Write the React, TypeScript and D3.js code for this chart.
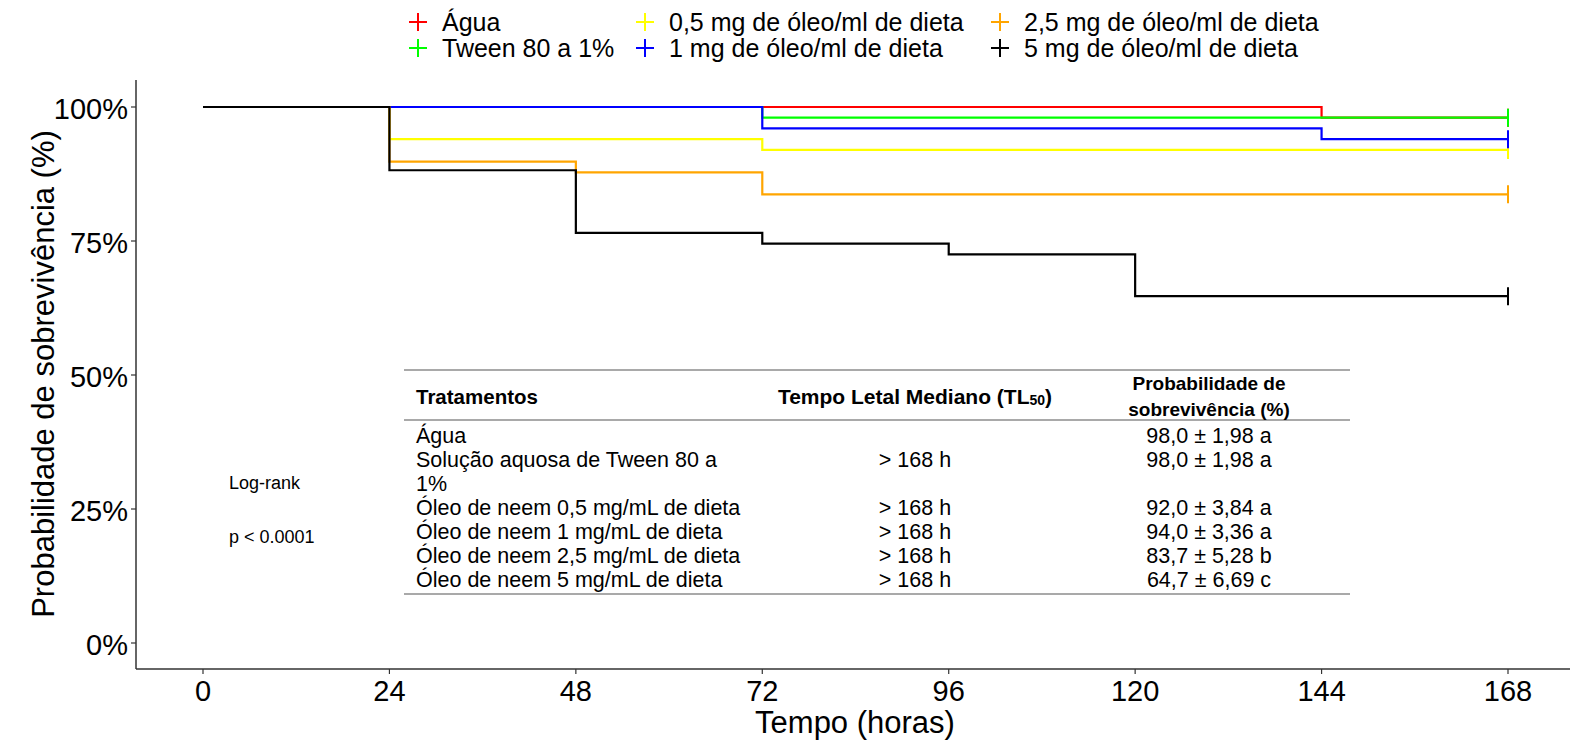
import * as d3 from "d3";

const width = 1570;
const height = 743;

// strata (legend order)
const treatments = [
  "Água",
  "Tween 80 a 1%",
  "0,5 mg de óleo/ml de dieta",
  "1 mg de óleo/ml de dieta",
  "2,5 mg de óleo/ml de dieta",
  "5 mg de óleo/ml de dieta",
];
const colors = ["#FF0000", "#00FF00", "#FFFF00", "#0000FF", "#FFA500", "#000000"];

// Kaplan-Meier steps (hours, survival %)
const stepTimes = [
  [0, 144, 168],
  [0, 72, 168],
  [0, 24, 72, 168],
  [0, 72, 144, 168],
  [0, 24, 48, 72, 168],
  [0, 24, 48, 72, 96, 120, 168],
];
const stepSurv = [
  [100, 98, 98],
  [100, 98, 98],
  [100, 94, 92, 92],
  [100, 96, 94, 94],
  [100, 89.8, 87.8, 83.7, 83.7],
  [100, 88.2, 76.5, 74.5, 72.5, 64.7, 64.7],
];

const xTicks = [0, 24, 48, 72, 96, 120, 144, 168];
const yTicks = [0, 25, 50, 75, 100];

// table
const tableHeader = ["Tratamentos", "Tempo Letal Mediano (TL", "Probabilidade de", "sobrevivência (%)"];
const tableNames = [
  "Água",
  "Solução aquosa de Tween 80 a",
  "1%",
  "Óleo de neem 0,5 mg/mL de dieta",
  "Óleo de neem 1 mg/mL de dieta",
  "Óleo de neem 2,5 mg/mL de dieta",
  "Óleo de neem 5 mg/mL de dieta",
];
const tableTL50 = ["", "> 168 h", "", "> 168 h", "> 168 h", "> 168 h", "> 168 h"];
const tableProb = ["98,0 ± 1,98 a", "98,0 ± 1,98 a", "", "92,0 ± 3,84 a", "94,0 ± 3,36 a", "83,7 ± 5,28 b", "64,7 ± 6,69 c"];

const legendCols = [418, 645, 1000];
const legendRows = [22, 48];

const font = "'Liberation Sans', Arial, sans-serif";

const panelLeft = 136;
const panelTop = 80;
const panelBottom = 669;

export default function App() {
  const x = d3.scaleLinear().domain([0, 168]).range([203, 1508]);
  const y = d3.scaleLinear().domain([0, 100]).range([643, 107]);

  const line = d3
    .line<[number, number]>()
    .x((d) => x(d[0]))
    .y((d) => y(d[1]))
    .curve(d3.curveStepAfter);

  const rowY = d3.scalePoint<number>().domain(d3.range(tableNames.length)).range([436, 580]);

  return (
    <svg
      width={width}
      height={height}
      style={{ position: "absolute", left: 0, top: 0, background: "#fff" }}
      fontFamily={font}
    >
      {/* legend */}
      <g className="legend">
        {treatments.map((t, i) => {
          const cx = legendCols[Math.floor(i / 2)];
          const cy = legendRows[i % 2];
          return (
            <g key={t}>
              <line x1={cx - 9} x2={cx + 9} y1={cy} y2={cy} stroke={colors[i]} strokeWidth={2} />
              <line x1={cx} x2={cx} y1={cy - 9} y2={cy + 9} stroke={colors[i]} strokeWidth={2} />
              <text x={cx + 24} y={cy} dominantBaseline="central" fontSize={25}>
                {t}
              </text>
            </g>
          );
        })}
      </g>

      {/* axes */}
      <line x1={panelLeft} x2={panelLeft} y1={panelTop} y2={panelBottom} stroke="#333" strokeWidth={1.5} />
      <line x1={panelLeft} x2={width} y1={panelBottom} y2={panelBottom} stroke="#333" strokeWidth={1.5} />
      {yTicks.map((v) => (
        <g key={v}>
          <line x1={panelLeft - 5} x2={panelLeft} y1={y(v)} y2={y(v)} stroke="#333" strokeWidth={1.2} />
          <text x={128} y={y(v) + 2} textAnchor="end" dominantBaseline="central" fontSize={29}>
            {v}%
          </text>
        </g>
      ))}
      {xTicks.map((v) => (
        <g key={v}>
          <line x1={x(v)} x2={x(v)} y1={panelBottom} y2={panelBottom + 5} stroke="#333" strokeWidth={1.2} />
          <text x={x(v)} y={701} textAnchor="middle" fontSize={29}>
            {v}
          </text>
        </g>
      ))}
      <text x={855} y={733} textAnchor="middle" fontSize={31}>
        Tempo (horas)
      </text>
      <text transform={`translate(54,374) rotate(-90)`} textAnchor="middle" fontSize={31}>
        Probabilidade de sobrevivência (%)
      </text>

      {/* survival curves */}
      <g className="curves" fill="none">
        {treatments.map((t, i) => {
          const pts = stepTimes[i].map((tt, j) => [tt, stepSurv[i][j]] as [number, number]);
          const last = pts[pts.length - 1];
          return (
            <g key={t}>
              <path d={line(pts) ?? ""} stroke={colors[i]} strokeWidth={2.2} />
              <line
                x1={x(last[0])}
                x2={x(last[0])}
                y1={y(last[1]) - 9}
                y2={y(last[1]) + 9}
                stroke={colors[i]}
                strokeWidth={2}
              />
            </g>
          );
        })}
      </g>

      {/* log-rank */}
      <text x={229} y={489} fontSize={18}>
        Log-rank
      </text>
      <text x={229} y={543} fontSize={18}>
        p &lt; 0.0001
      </text>

      {/* table */}
      <g className="table">
        <line x1={404} x2={1350} y1={370} y2={370} stroke="#555" strokeWidth={1.2} />
        <line x1={404} x2={1350} y1={420} y2={420} stroke="#555" strokeWidth={1.2} />
        <line x1={404} x2={1350} y1={594} y2={594} stroke="#555" strokeWidth={1.2} />
        <text x={416} y={396} dominantBaseline="central" fontSize={20.5} fontWeight="bold">
          {tableHeader[0]}
        </text>
        <text x={915} y={396} dominantBaseline="central" textAnchor="middle" fontSize={21} fontWeight="bold">
          {tableHeader[1]}
          <tspan fontSize={14} dy={4}>50</tspan>
          <tspan dy={-4}>)</tspan>
        </text>
        <text x={1209} y={383} dominantBaseline="central" textAnchor="middle" fontSize={19} fontWeight="bold">
          {tableHeader[2]}
        </text>
        <text x={1209} y={409} dominantBaseline="central" textAnchor="middle" fontSize={19} fontWeight="bold">
          {tableHeader[3]}
        </text>
        {tableNames.map((n, i) => (
          <g key={i}>
            <text x={416} y={rowY(i)} dominantBaseline="central" fontSize={21.5}>
              {n}
            </text>
            <text x={915} y={rowY(i)} dominantBaseline="central" textAnchor="middle" fontSize={21.5}>
              {tableTL50[i]}
            </text>
            <text x={1209} y={rowY(i)} dominantBaseline="central" textAnchor="middle" fontSize={21.5}>
              {tableProb[i]}
            </text>
          </g>
        ))}
      </g>
    </svg>
  );
}
